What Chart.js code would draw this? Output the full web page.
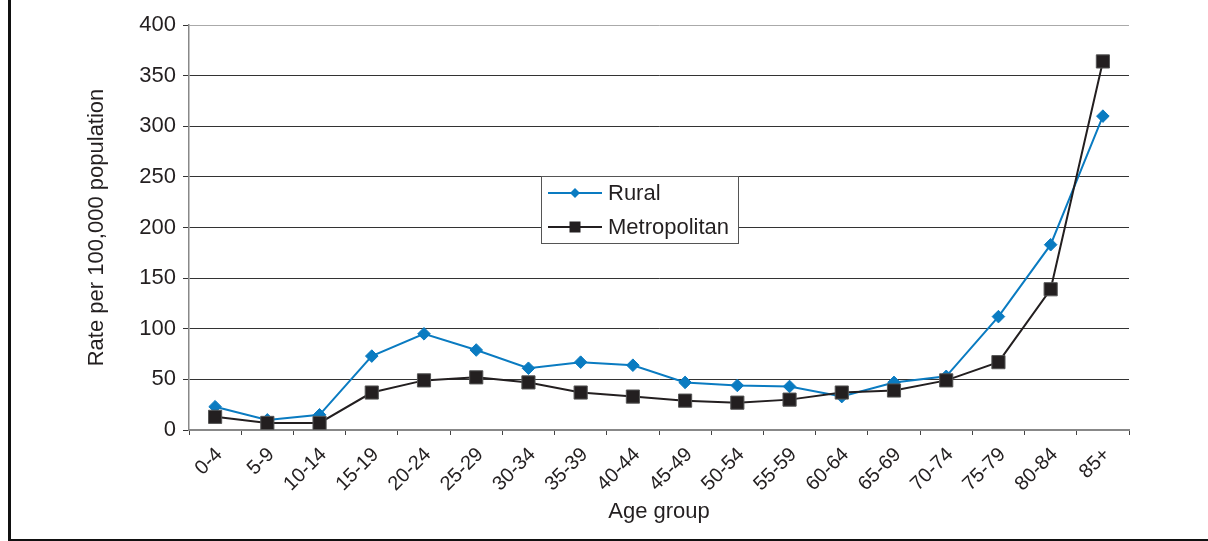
<!DOCTYPE html>
<html>
<head>
<meta charset="utf-8">
<script src="https://cdn.jsdelivr.net/npm/chart.js@4/dist/chart.umd.min.js"></script>
<style>
  html, body { margin: 0; padding: 0; background: #fff; }
  #wrap { position: relative; width: 1208px; height: 541px; }
  #frame {
    position: absolute; left: 8px; top: 0; right: 0; bottom: 0;
    border-left: 3px solid #111; border-bottom: 2px solid #111;
    pointer-events: none;
  }
  canvas { display: block; }
</style>
</head>
<body>
<div id="wrap">
  <canvas id="c" width="1208" height="541"></canvas>
  <div id="frame"></div>
</div>
<script>
// Age groups on the horizontal axis
const ageGroups = ['0-4', '5-9', '10-14', '15-19', '20-24', '25-29', '30-34', '35-39',
  '40-44', '45-49', '50-54', '55-59', '60-64', '65-69', '70-74', '75-79', '80-84', '85+'];

// Rates per 100,000 population
const ruralRates = [23, 10, 15, 73, 95, 79, 61, 67, 64, 47, 44, 43, 33, 47, 53, 112, 183, 310];
const metroRates = [13, 7, 7, 37, 49, 52, 47, 37, 33, 29, 27, 30, 37, 39, 49, 67, 139, 364];

// Vertical axis ticks
const yTicks = [0, 50, 100, 150, 200, 250, 300, 350, 400];

const TEXT = '#231f20';
const BLUE = '#0a7bc1';
const BLACK = '#231f20';
const FONT_SIZE = 22;

Chart.defaults.font.family = '"Liberation Sans", Arial, sans-serif';
Chart.defaults.font.size = FONT_SIZE;
Chart.defaults.color = TEXT;

// Boxed legend drawn inside the plot area
const boxLegend = {
  id: 'boxLegend',
  afterDraw(chart, args, opts) {
    const ctx = chart.ctx;
    const a = chart.chartArea;
    const x = a.left + opts.dx, y = a.top + opts.dy;
    ctx.save();
    ctx.fillStyle = '#fff';
    ctx.fillRect(x, y, opts.w, opts.h);
    ctx.strokeStyle = '#555';
    ctx.lineWidth = 1;
    ctx.strokeRect(x + 0.5, y + 0.5, opts.w, opts.h);
    const ds = chart.data.datasets;
    ds.forEach((d, i) => {
      const cy = y + opts.firstRow + i * opts.rowGap;
      const lx0 = x + 7, lx1 = x + 61, mx = (lx0 + lx1) / 2;
      ctx.strokeStyle = d.borderColor;
      ctx.lineWidth = 2;
      ctx.beginPath();
      ctx.moveTo(lx0, cy);
      ctx.lineTo(lx1, cy);
      ctx.stroke();
      ctx.fillStyle = d.pointBackgroundColor;
      ctx.beginPath();
      if (d.pointStyle === 'rectRot') {
        const r = 5;
        ctx.moveTo(mx, cy - r); ctx.lineTo(mx + r, cy);
        ctx.lineTo(mx, cy + r); ctx.lineTo(mx - r, cy);
        ctx.closePath();
      } else {
        const h = 5.5;
        ctx.rect(mx - h, cy - h, 2 * h, 2 * h);
      }
      ctx.fill();
      ctx.fillStyle = TEXT;
      ctx.font = opts.fontSize + 'px "Liberation Sans", Arial, sans-serif';
      ctx.textBaseline = 'middle';
      ctx.textAlign = 'left';
      ctx.fillText(d.label, x + 67, cy + 1);
    });
    ctx.restore();
  }
};

new Chart(document.getElementById('c'), {
  type: 'line',
  data: {
    labels: ageGroups,
    datasets: [
      {
        label: 'Rural',
        data: ruralRates,
        borderColor: BLUE,
        backgroundColor: BLUE,
        pointBackgroundColor: BLUE,
        pointBorderColor: BLUE,
        pointStyle: 'rectRot',
        pointRadius: 6.3,
        pointBorderWidth: 1,
        borderWidth: 2,
        tension: 0,
        order: 1
      },
      {
        label: 'Metropolitan',
        data: metroRates,
        borderColor: BLACK,
        backgroundColor: BLACK,
        pointBackgroundColor: BLACK,
        pointBorderColor: '#555',
        pointStyle: 'rect',
        pointRadius: 9.3,
        pointBorderWidth: 1,
        borderWidth: 2,
        tension: 0,
        order: 0
      }
    ]
  },
  options: {
    responsive: false,
    animation: false,
    layout: { padding: { left: 84, right: 79, top: 25, bottom: 0 } },
    plugins: {
      legend: { display: false },
      tooltip: { enabled: false },
      boxLegend: { dx: 352, dy: 151, w: 197, h: 67, firstRow: 17, rowGap: 34, fontSize: 22 }
    },
    scales: {
      x: {
        type: 'category',
        offset: true,
        grid: {
          offset: true,
          drawOnChartArea: false,
          drawTicks: true,
          tickLength: 5,
          tickColor: '#444',
          tickWidth: 1
        },
        border: { display: true, color: '#888', width: 2 },
        ticks: {
          autoSkip: false,
          maxRotation: 45,
          minRotation: 45,
          padding: 8,
          labelOffset: 4,
          color: TEXT,
          font: { size: 20 }
        },
        title: {
          display: true,
          text: 'Age group',
          color: TEXT,
          font: { size: FONT_SIZE },
          padding: { top: 0, bottom: 16 }
        },
        afterFit(scale) { scale.height = 111; }
      },
      y: {
        min: 0,
        max: 400,
        afterBuildTicks(scale) { scale.ticks = yTicks.map(v => ({ value: v })); },
        grid: {
          color: ctx => ctx.tick && ctx.tick.value === 400 ? '#aaa' : (ctx.tick && ctx.tick.value === 0 ? '#888' : '#333'),
          lineWidth: 1,
          drawTicks: true,
          tickLength: 6,
          tickColor: '#333'
        },
        border: { display: true, color: '#888', width: 1.5 },
        ticks: {
          padding: 7,
          color: TEXT,
          font: { size: FONT_SIZE }
        },
        title: {
          display: true,
          text: 'Rate per 100,000 population',
          color: TEXT,
          font: { size: FONT_SIZE },
          padding: { top: 0, bottom: 0 }
        },
        afterFit(scale) { scale.width = 105; }
      }
    }
  },
  plugins: [boxLegend]
});
</script>
</body>
</html>
